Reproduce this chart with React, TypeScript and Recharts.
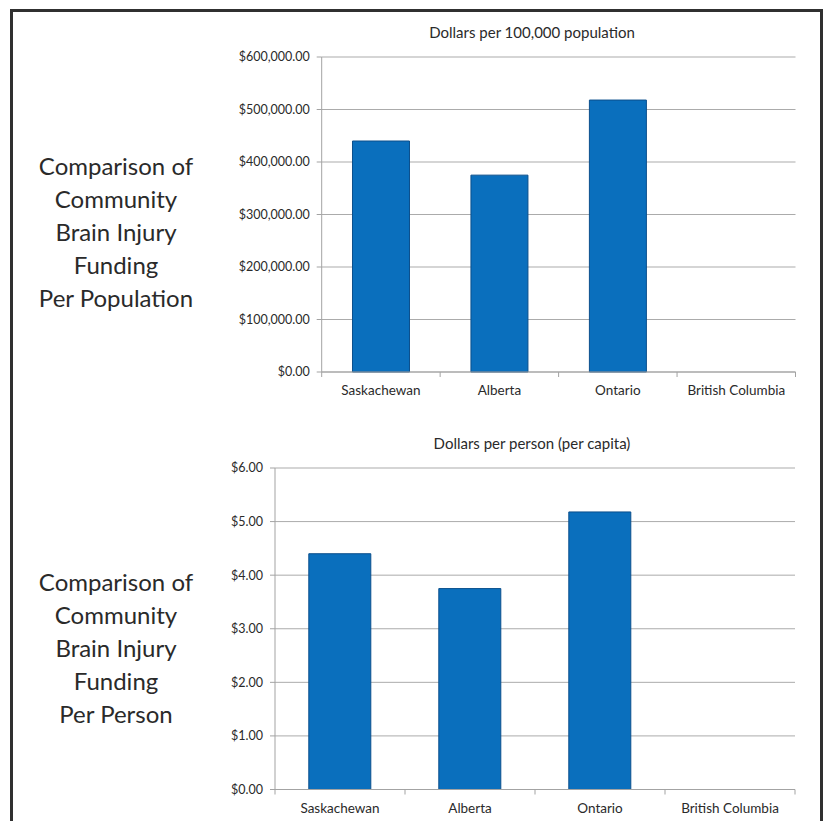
import React from 'react';
import { BarChart, Bar, XAxis, YAxis, CartesianGrid } from 'recharts';

const provinces = ['Saskachewan', 'Alberta', 'Ontario', 'British Columbia'];
const dollarsPer100k = [440000, 375000, 518000, 0];
const dollarsPerCapita = [4.4, 3.75, 5.18, 0];
const per100kTicks = [0, 100000, 200000, 300000, 400000, 500000, 600000];
const perCapitaTicks = [0, 1, 2, 3, 4, 5, 6];

const titleTop = 'Dollars per 100,000 population';
const titleBottom = 'Dollars per person (per capita)';
const sideTop = ['Comparison of', 'Community', 'Brain Injury', 'Funding', 'Per Population'];
const sideBottom = ['Comparison of', 'Community', 'Brain Injury', 'Funding', 'Per Person'];

const topData = provinces.map((name, i) => ({ name, value: dollarsPer100k[i] }));
const bottomData = provinces.map((name, i) => ({ name, value: dollarsPerCapita[i] }));

const FONT = 'Lato, "Open Sans", sans-serif';
const AXIS = '#a3a3a3';
const GRID = '#ababab';
const TEXT = '#2a2a2a';
const BAR = '#0a6fbd';
const BAR_EDGE = '#0b4f8c';

const money = (v: number) =>
  '$' + v.toLocaleString('en-US', { minimumFractionDigits: 2, maximumFractionDigits: 2 });

const CategoryTick = (props: any) => {
  const { x, y, payload, index, visibleTicksCount, width } = props;
  const half =
    typeof payload?.offset === 'number' && payload.offset > 0
      ? payload.offset
      : width / visibleTicksCount / 2;
  return (
    <g>
      <line x1={x - half} y1={y} x2={x - half} y2={y + 5} stroke={AXIS} />
      {index === visibleTicksCount - 1 && (
        <line x1={x + half} y1={y} x2={x + half} y2={y + 5} stroke={AXIS} />
      )}
      <text
        x={x}
        y={y + 20}
        textAnchor="middle"
        dominantBaseline="middle"
        fill={TEXT}
        fontSize={13.5}
        fontFamily={FONT}
      >
        {payload.value}
      </text>
    </g>
  );
};

const SideText = ({ lines, top }: { lines: string[]; top: number }) => (
  <div
    style={{
      position: 'absolute',
      left: 16,
      top,
      width: 200,
      textAlign: 'center',
      fontFamily: FONT,
      fontSize: 24,
      lineHeight: '33px',
      color: TEXT,
    }}
  >
    {lines.map((l) => (
      <div key={l}>{l}</div>
    ))}
  </div>
);

const Title = ({ text, cy }: { text: string; cy: number }) => (
  <div
    style={{
      position: 'absolute',
      left: 332,
      top: cy - 10,
      width: 400,
      height: 20,
      lineHeight: '20px',
      textAlign: 'center',
      fontFamily: FONT,
      fontSize: 15,
      color: TEXT,
      whiteSpace: 'nowrap',
    }}
  >
    {text}
  </div>
);

export default function App() {
  return (
    <div
      style={{
        position: 'absolute',
        left: 0,
        top: 0,
        width: 828,
        height: 821,
        overflow: 'hidden',
        background: '#fff',
      }}
    >
      <div
        style={{
          position: 'absolute',
          left: 10,
          top: 9,
          width: 813 - 6,
          height: 900,
          border: '3px solid #303030',
        }}
      />
      <SideText lines={sideTop} top={148.5} />
      <SideText lines={sideBottom} top={565} />
      <Title text={titleTop} cy={31.7} />
      <Title text={titleBottom} cy={443} />

      <div style={{ position: 'absolute', left: 0, top: 0 }}>
        <BarChart
          width={828}
          height={410}
          data={topData}
          margin={{ top: 57, right: 32.5, left: 231.7, bottom: 8 }}
          barCategoryGap="26%"
        >
          <CartesianGrid vertical={false} stroke={GRID} />
          <XAxis
            dataKey="name"
            height={30}
            stroke={AXIS}
            tickLine={false}
            tickSize={0}
            tickMargin={0}
            interval={0}
            tick={<CategoryTick />}
          />
          <YAxis
            width={90}
            domain={[0, 600000]}
            ticks={per100kTicks}
            tickFormatter={money}
            stroke={AXIS}
            tickSize={5}
            tickMargin={7}
            interval={0}
            tick={{ fill: TEXT, fontSize: 12.5, fontFamily: FONT }}
          />
          <Bar dataKey="value" fill={BAR} stroke={BAR_EDGE} strokeWidth={1} isAnimationActive={false} />
        </BarChart>
      </div>

      <div style={{ position: 'absolute', left: 0, top: 420 }}>
        <BarChart
          width={828}
          height={401}
          data={bottomData}
          margin={{ top: 48, right: 33, left: 215, bottom: 1.5 }}
          barCategoryGap="26%"
        >
          <CartesianGrid vertical={false} stroke={GRID} />
          <XAxis
            dataKey="name"
            height={30}
            stroke={AXIS}
            tickLine={false}
            tickSize={0}
            tickMargin={0}
            interval={0}
            tick={<CategoryTick />}
          />
          <YAxis
            width={60}
            domain={[0, 6]}
            ticks={perCapitaTicks}
            tickFormatter={money}
            stroke={AXIS}
            tickSize={5}
            tickMargin={7}
            interval={0}
            tick={{ fill: TEXT, fontSize: 12.5, fontFamily: FONT }}
          />
          <Bar dataKey="value" fill={BAR} stroke={BAR_EDGE} strokeWidth={1} isAnimationActive={false} />
        </BarChart>
      </div>
    </div>
  );
}
